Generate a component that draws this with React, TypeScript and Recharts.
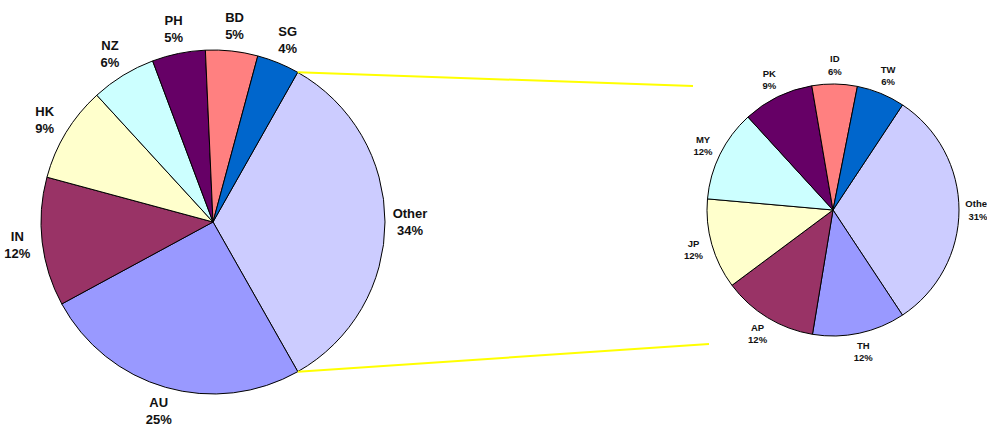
import React from "react";
import { PieChart, Pie, Cell } from "recharts";

// shares (percent)
const mainNames = ["Other", "AU", "IN", "HK", "NZ", "PH", "BD", "SG"];
const mainShares = [33.6, 25.3, 12.1, 9.0, 6.1, 5.0, 4.9, 4.0];

const otherNames = ["Other", "TH", "AP", "JP", "MY", "PK", "ID", "TW"];
const otherShares = [31.4, 11.9, 12.2, 11.6, 11.8, 9.1, 5.8, 6.2];

const sliceColors = ["#CCCCFF", "#9999FF", "#993366", "#FFFFCC", "#CCFFFF", "#660066", "#FF8080", "#0066CC"];

const W = 987;
const H = 427;
const RADIAN = Math.PI / 180;
const FONT = "'Liberation Sans', Arial, sans-serif";

const MAIN = { cx: 213, cy: 222, r: 172, start: 60.5 };
const SUB = { cx: 833, cy: 210, r: 126, start: 56.5 };

const mainData = mainNames.map((name, i) => ({ name, value: mainShares[i] }));
const subData = otherNames.map((name, i) => ({ name, value: otherShares[i] }));

function makeLabel(offset: number, fontSize: number, gap: number) {
  return (props: any) => {
    const { cx, cy, midAngle, outerRadius, percent } = props;
    const name = props.name ?? props.payload?.name;
    const r = outerRadius + offset;
    const x = cx + r * Math.cos(-midAngle * RADIAN);
    const y = cy + r * Math.sin(-midAngle * RADIAN);
    return (
      <text x={x} y={y} textAnchor="middle" fontSize={fontSize} fontWeight="bold" fill="#111" fontFamily={FONT}>
        <tspan x={x} dy={-gap / 2 + fontSize * 0.35}>{name}</tspan>
        <tspan x={x} dy={gap}>{Math.round(percent * 100) + "%"}</tspan>
      </text>
    );
  };
}

// connector lines: from the edges of the "Other" slice to the secondary pie
function connectorPoints() {
  const total = mainShares.reduce((a, b) => a + b, 0);
  const a1 = MAIN.start * RADIAN;
  const a2 = (MAIN.start - (360 * mainShares[0]) / total) * RADIAN;
  const p1 = { x: MAIN.cx + MAIN.r * Math.cos(a1), y: MAIN.cy - MAIN.r * Math.sin(a1) };
  const p2 = { x: MAIN.cx + MAIN.r * Math.cos(a2), y: MAIN.cy - MAIN.r * Math.sin(a2) };
  const q1 = { x: SUB.cx - 140, y: SUB.cy - 124 };
  const q2 = { x: SUB.cx - 124, y: SUB.cy + 134 };
  return [
    [p1, q1],
    [p2, q2],
  ];
}

export default function App() {
  const lines = connectorPoints();
  return (
    <div style={{ position: "absolute", left: 0, top: 0, width: W, height: H, background: "#fff", overflow: "hidden" }}>
      <PieChart width={W} height={H} margin={{ top: 0, right: 0, bottom: 0, left: 0 }}>
        <Pie
          data={mainData}
          dataKey="value"
          nameKey="name"
          cx={MAIN.cx}
          cy={MAIN.cy}
          outerRadius={MAIN.r}
          startAngle={MAIN.start}
          endAngle={MAIN.start - 360}
          label={makeLabel(25, 13, 17)}
          labelLine={false}
          isAnimationActive={false}
        >
          {mainData.map((d, i) => (
            <Cell key={d.name} fill={sliceColors[i]} stroke="#000" strokeWidth={1} />
          ))}
        </Pie>
        <Pie
          data={subData}
          dataKey="value"
          nameKey="name"
          cx={SUB.cx}
          cy={SUB.cy}
          outerRadius={SUB.r}
          startAngle={SUB.start}
          endAngle={SUB.start - 360}
          label={makeLabel(19, 9.5, 12.5)}
          labelLine={false}
          isAnimationActive={false}
        >
          {subData.map((d, i) => (
            <Cell key={d.name} fill={sliceColors[i]} stroke="#000" strokeWidth={1} />
          ))}
        </Pie>
      </PieChart>
      <svg width={W} height={H} style={{ position: "absolute", left: 0, top: 0, pointerEvents: "none" }}>
        {lines.map(([a, b], i) => (
          <line key={i} x1={a.x} y1={a.y} x2={b.x} y2={b.y} stroke="#FFFF00" strokeWidth={2} />
        ))}
      </svg>
    </div>
  );
}
